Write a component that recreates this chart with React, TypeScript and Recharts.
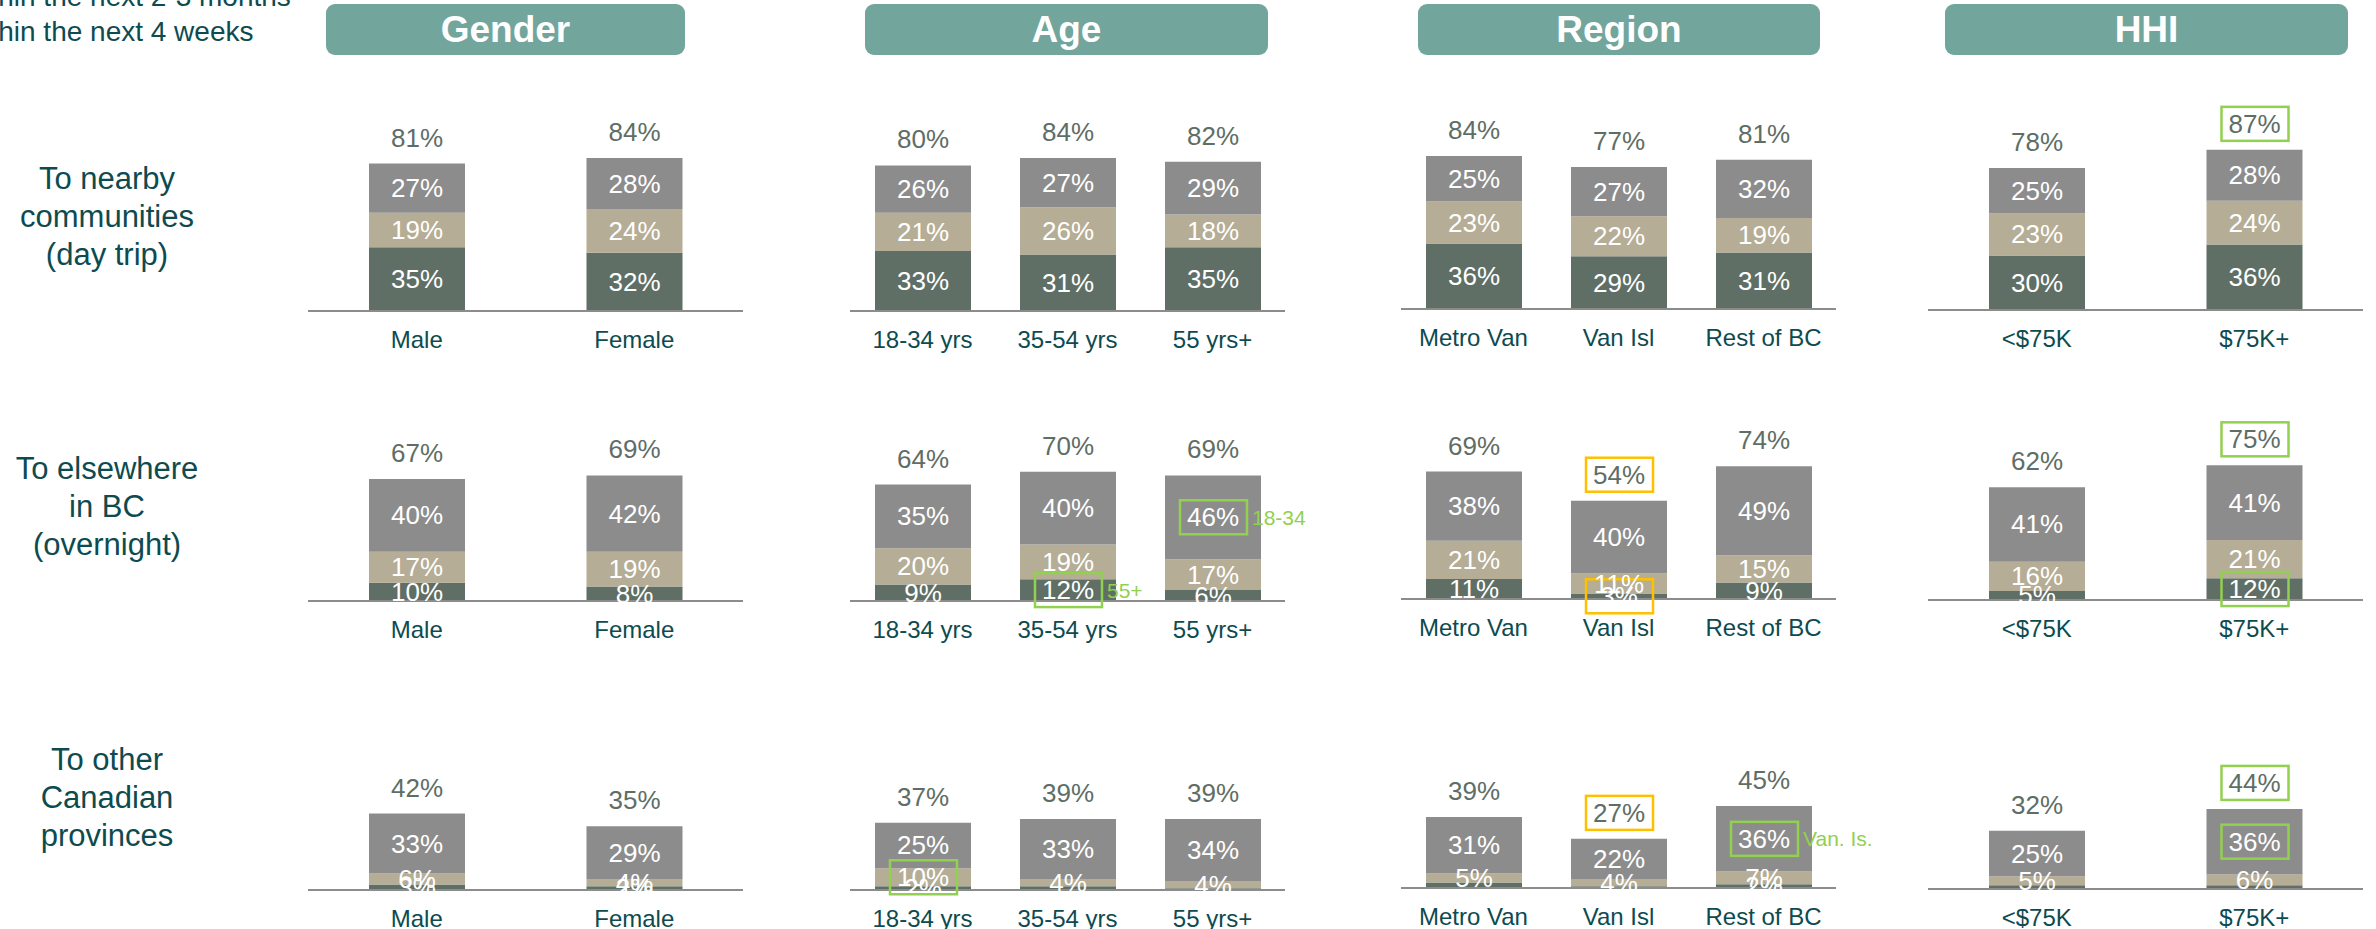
import React from 'react';
import { BarChart, Bar, XAxis, YAxis, LabelList } from 'recharts';

const FONT = '"Liberation Sans", Arial, sans-serif';
const DARK = '#5f6f66';
const TAN = '#b5ad95';
const GREY = '#8c8c8c';
const HEADER = '#72a59c';
const TEXT = '#0d4b50';
const TOTAL_TEXT = '#5e6e66';
const GREEN = '#92d050';
const ORANGE = '#ffc000';

const groupTitles = ['Gender', 'Age', 'Region', 'HHI'];
const genderCats = ['Male', 'Female'];
const ageCats = ['18-34 yrs', '35-54 yrs', '55 yrs+'];
const regionCats = ['Metro Van', 'Van Isl', 'Rest of BC'];
const hhiCats = ['<$75K', '$75K+'];

const rowTitles = [
  ['To nearby', 'communities', '(day trip)'],
  ['To elsewhere', 'in BC', '(overnight)'],
  ['To other', 'Canadian', 'provinces'],
];

// order: Male, Female, 18-34, 35-54, 55+, Metro Van, Van Isl, Rest of BC, <75K, 75K+
const dayTripTotal = [81, 84, 80, 84, 82, 84, 77, 81, 78, 87];
const dayTripBottom = [35, 32, 33, 31, 35, 36, 29, 31, 30, 36];
const dayTripMid = [19, 24, 21, 26, 18, 23, 22, 19, 23, 24];
const dayTripTop = [27, 28, 26, 27, 29, 25, 27, 32, 25, 28];

const overnightTotal = [67, 69, 64, 70, 69, 69, 54, 74, 62, 75];
const overnightBottom = [10, 8, 9, 12, 6, 11, 3, 9, 5, 12];
const overnightMid = [17, 19, 20, 19, 17, 21, 11, 15, 16, 21];
const overnightTop = [40, 42, 35, 40, 46, 38, 40, 49, 41, 41];

const provincesTotal = [42, 35, 37, 39, 39, 39, 27, 45, 32, 44];
const provincesBottom = [3, 2, 2, 2, 1, 3, 1, 2, 2, 2];
const provincesMid = [6, 4, 10, 4, 4, 5, 4, 7, 5, 6];
const provincesTop = [33, 29, 25, 33, 34, 31, 22, 36, 25, 36];

// bottom labels that are not shown in the source slide
const hiddenBottomLabels = [[], [], ['35-54 yrs', '55 yrs+', 'Metro Van', 'Van Isl', '<$75K', '$75K+']];

const highlights = [
  { row: 0, cat: '$75K+', part: 'total', color: GREEN },
  { row: 1, cat: '55 yrs+', part: 'top', color: GREEN, note: '18-34' },
  { row: 1, cat: '35-54 yrs', part: 'bottom', color: GREEN, note: '55+' },
  { row: 1, cat: 'Van Isl', part: 'total', color: ORANGE },
  { row: 1, cat: 'Van Isl', part: 'bottom', color: ORANGE },
  { row: 1, cat: '$75K+', part: 'total', color: GREEN },
  { row: 1, cat: '$75K+', part: 'bottom', color: GREEN },
  { row: 2, cat: '18-34 yrs', part: 'mid', color: GREEN },
  { row: 2, cat: 'Van Isl', part: 'total', color: ORANGE },
  { row: 2, cat: 'Rest of BC', part: 'top', color: GREEN, note: 'Van. Is.' },
  { row: 2, cat: '$75K+', part: 'total', color: GREEN },
  { row: 2, cat: '$75K+', part: 'top', color: GREEN },
];

const rowsData = [
  { total: dayTripTotal, bottom: dayTripBottom, mid: dayTripMid, top: dayTripTop },
  { total: overnightTotal, bottom: overnightBottom, mid: overnightMid, top: overnightTop },
  { total: provincesTotal, bottom: provincesBottom, mid: provincesMid, top: provincesTop },
];

const panels = [
  { cats: genderCats, start: 0, axisX: 308, dy: 0, header: [326, 685] },
  { cats: ageCats, start: 2, axisX: 850, dy: 0, header: [865, 1268] },
  { cats: regionCats, start: 5, axisX: 1401, dy: -2, header: [1418, 1820] },
  { cats: hhiCats, start: 8, axisX: 1928, dy: -1, header: [1945, 2348] },
];

const rowAxisY = [311, 601, 890];
const rowTitleTop = [160, 450, 741];

const AXIS_W = 435;
const SIDE = 60;
const TOP = 40;
const PLOT_H = 182;
const TICK_H = 50;

const findHighlight = (row: number, cat: string, part: string) =>
  highlights.find((h) => h.row === row && h.cat === cat && h.part === part);

const makeLabel = (row: number, cats: string[], part: string) => (props: any) => {
  const { x, y, width, height, value, index } = props;
  const cat = cats[index];
  if (part === 'bottom' && hiddenBottomLabels[row].includes(cat)) return null;
  const cx = Number(x) + Number(width) / 2;
  const cy = part === 'total' ? Number(y) - 26 : Number(y) + Number(height) / 2;
  const hl = findHighlight(row, cat, part);
  return (
    <g>
      {hl && (
        <rect x={cx - 33} y={cy - 17} width={67} height={34} fill="none" stroke={hl.color} strokeWidth={2.5} />
      )}
      <text
        x={cx}
        y={cy}
        textAnchor="middle"
        dominantBaseline="central"
        fill={part === 'total' ? TOTAL_TEXT : '#ffffff'}
        fontSize={26}
        fontFamily={FONT}
      >
        {`${value}%`}
      </text>
      {hl && hl.note && (
        <text x={cx + 39} y={cy} dominantBaseline="central" fill={GREEN} fontSize={21} fontFamily={FONT}>
          {hl.note}
        </text>
      )}
    </g>
  );
};

const CatTick = (props: any) => {
  const { x, y, payload } = props;
  return (
    <text x={x} y={y + 28} textAnchor="middle" dominantBaseline="central" fill={TEXT} fontSize={24} fontFamily={FONT}>
      {payload.value}
    </text>
  );
};

const Panel = ({ row, panel }: { row: number; panel: (typeof panels)[number] }) => {
  const r = rowsData[row];
  const data = panel.cats.map((cat, i) => ({
    cat,
    bottom: r.bottom[panel.start + i],
    mid: r.mid[panel.start + i],
    top: r.top[panel.start + i],
    total: r.total[panel.start + i],
  }));
  const axisY = rowAxisY[row] + panel.dy;
  return (
    <div style={{ position: 'absolute', left: panel.axisX - SIDE, top: axisY - TOP - PLOT_H }}>
      <BarChart
        width={AXIS_W + SIDE * 2}
        height={TOP + PLOT_H + TICK_H}
        data={data}
        margin={{ top: TOP, right: SIDE, bottom: 0, left: SIDE }}
        style={{ overflow: 'visible' }}
      >
        <XAxis
          dataKey="cat"
          height={TICK_H}
          tickLine={false}
          tickSize={0}
          tickMargin={0}
          axisLine={{ stroke: GREY, strokeWidth: 2 }}
          tick={<CatTick />}
          interval={0}
        />
        <YAxis hide type="number" domain={[0, 100]} />
        <Bar dataKey="bottom" stackId="a" fill={DARK} barSize={96} isAnimationActive={false}>
          <LabelList dataKey="bottom" content={makeLabel(row, panel.cats, 'bottom')} />
        </Bar>
        <Bar dataKey="mid" stackId="a" fill={TAN} barSize={96} isAnimationActive={false}>
          <LabelList dataKey="mid" content={makeLabel(row, panel.cats, 'mid')} />
        </Bar>
        <Bar dataKey="top" stackId="a" fill={GREY} barSize={96} isAnimationActive={false}>
          <LabelList dataKey="top" content={makeLabel(row, panel.cats, 'top')} />
          <LabelList dataKey="total" content={makeLabel(row, panel.cats, 'total')} />
        </Bar>
      </BarChart>
    </div>
  );
};

export default function App() {
  return (
    <div
      style={{
        position: 'absolute',
        left: 0,
        top: 0,
        width: 2376,
        height: 929,
        overflow: 'hidden',
        background: '#ffffff',
        fontFamily: FONT,
      }}
    >
      <div style={{ position: 'absolute', left: -36, top: -17, fontSize: 28, lineHeight: '28px', color: TEXT, whiteSpace: 'nowrap' }}>
        within the next 2-3 months
      </div>
      <div style={{ position: 'absolute', left: -36, top: 18, fontSize: 28, lineHeight: '28px', color: TEXT, whiteSpace: 'nowrap' }}>
        within the next 4 weeks
      </div>

      {panels.map((p, i) => (
        <div
          key={groupTitles[i]}
          style={{
            position: 'absolute',
            left: p.header[0],
            top: 4,
            width: p.header[1] - p.header[0],
            height: 51,
            background: HEADER,
            borderRadius: 9,
            color: '#ffffff',
            fontWeight: 'bold',
            fontSize: 37,
            lineHeight: '51px',
            textAlign: 'center',
          }}
        >
          {groupTitles[i]}
        </div>
      ))}

      {rowTitles.map((lines, ri) => (
        <div
          key={ri}
          style={{
            position: 'absolute',
            left: 0,
            top: rowTitleTop[ri],
            width: 214,
            textAlign: 'center',
            fontSize: 31,
            lineHeight: '38px',
            color: TEXT,
          }}
        >
          {lines.map((l) => (
            <div key={l}>{l}</div>
          ))}
        </div>
      ))}

      {rowAxisY.map((_, ri) => panels.map((p, pi) => <Panel key={`${ri}-${pi}`} row={ri} panel={p} />))}
    </div>
  );
}
